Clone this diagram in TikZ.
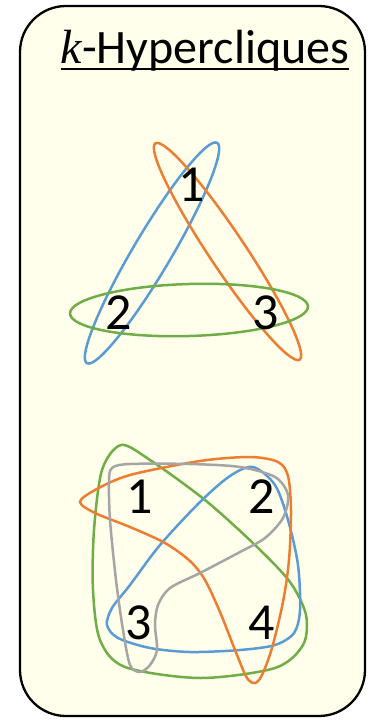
\documentclass[tikz,border=0pt]{standalone}
\usepackage{fontspec}
\setmainfont{Carlito}
\newfontfamily\kfont{Liberation Serif}
\definecolor{bg}{RGB}{255,255,235}
\definecolor{hblue}{RGB}{91,155,213}
\definecolor{horange}{RGB}{237,125,49}
\definecolor{hgreen}{RGB}{112,173,71}
\definecolor{hgrey}{RGB}{165,165,165}
\begin{document}
\begin{tikzpicture}[x=1pt,y=1pt,
  curve/.style={line width=2.5pt},
  num/.style={font=\fontsize{52}{56}\selectfont, inner sep=0pt}]
\useasboundingbox (0,0) rectangle (385,-721);
\draw[line width=2.3pt, fill=bg, rounded corners=46pt] (20,-6) rectangle (365,-716);
\node[anchor=base, inner sep=0pt, font=\fontsize{48}{52}\selectfont] (title) at (205,-63) {{\kfont\itshape k}-Hypercliques};
\draw[line width=1.6pt] ([yshift=-6pt]title.base west) -- ([yshift=-6pt]title.base east);
% top hypergraph
\draw[curve, hblue, rotate around={59.4:(152,-253)}] (152,-253) ellipse [x radius=128pt, y radius=19pt];
\draw[curve, horange, rotate around={123.7:(227.5,-251.5)}] (227.5,-251.5) ellipse [x radius=130pt, y radius=18pt];
\draw[curve, hgreen, rotate around={1.7:(189,-310)}] (189,-310) ellipse [x radius=119pt, y radius=26pt];
\node[num] (t1) at (192,-185) {1};
\node[num] (t2) at (119,-313) {2};
\node[num] (t3) at (266,-313) {3};
% bottom hypergraph
\draw[curve, hgreen] plot[smooth cycle] coordinates {(121,-445) (102,-470) (94,-530) (93,-590) (100,-640) (125,-667) (200,-678) (275,-668) (303,-645) (306,-615) (290,-582) (255,-545) (205,-500) (150,-460)};
\draw[curve, hblue] plot[smooth cycle] coordinates {(253,-467) (275,-485) (288,-520) (298,-565) (300,-610) (294,-633) (275,-645) (240,-650) (190,-652) (150,-648) (118,-638) (107,-625) (112,-608) (130,-585) (160,-545) (200,-502) (230,-476)};
\draw[curve, horange] plot[smooth cycle] coordinates {(80,-502) (95,-490) (130,-475) (200,-461) (250,-457) (278,-462) (288,-476) (291,-510) (289,-560) (283,-602) (272,-648) (262,-675) (255,-683) (247,-678) (237,-655) (220,-612) (205,-580) (190,-561) (165,-543) (130,-527) (95,-513)};
\draw[curve, hgrey] plot[smooth cycle] coordinates {(112,-468) (130,-464) (190,-464) (240,-467) (275,-477) (288,-495) (283,-518) (265,-538) (240,-552) (200,-573) (170,-588) (158,-605) (155,-625) (157,-650) (150,-665) (140,-672) (130,-665) (123,-630) (116,-580) (110,-520) (109,-482)};
\node[num] (b1) at (140,-497) {1};
\node[num] (b2) at (262,-497) {2};
\node[num] (b3) at (139,-623) {3};
\node[num] (b4) at (262,-623) {4};
\end{tikzpicture}
\end{document}
